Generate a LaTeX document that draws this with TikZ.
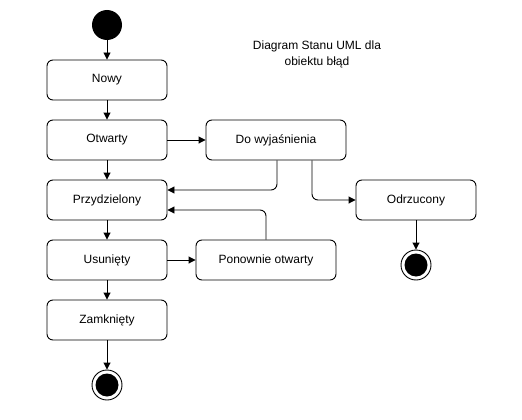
\documentclass[tikz,border=0pt]{standalone}
\usepackage{fontspec}
\setmainfont{Liberation Sans}
\usetikzlibrary{arrows.meta}
\tikzset{
  state/.style={draw, line width=0.9pt, rounded corners=6pt, minimum height=40pt, inner sep=0pt, font=\fontsize{12}{15}\selectfont, fill=white},
  arr/.style={draw, line width=0.9pt, -{Triangle[length=7pt,width=7pt]}, rounded corners=6pt},
  startst/.style={circle, fill=black, minimum size=30pt, inner sep=0pt},
  endst/.style={circle, draw, line width=0.9pt, minimum size=30pt, inner sep=0pt, path picture={\fill[black] (path picture bounding box.center) circle (11.5pt);}},
}
\begin{document}
\begin{tikzpicture}[x=1pt,y=-1pt]
\useasboundingbox (0,0) rectangle (522,420);
\node[startst] (start) at (107,25) {};
\node[state, minimum width=120pt] (nowy) at (107,80) {Nowy};
\node[state, minimum width=120pt] (otw) at (107,140) {Otwarty};
\node[state, minimum width=120pt] (prz) at (107,200) {Przydzielony};
\node[state, minimum width=120pt] (usu) at (107,260) {Usunięty};
\node[state, minimum width=120pt] (zam) at (107,320) {Zamknięty};
\node[endst] (end1) at (107,385) {};
\node[state, minimum width=140pt] (dw) at (276,140) {Do wyjaśnienia};
\node[state, minimum width=120pt] (odr) at (416,200) {Odrzucony};
\node[endst] (end2) at (416,265) {};
\node[state, minimum width=140pt] (pon) at (266,260) {Ponownie otwarty};
\node[align=center, font=\fontsize{12}{16}\selectfont] (title) at (317,54) {Diagram Stanu UML dla\\obiektu błąd};

\draw[arr] (start) -- (nowy);
\draw[arr] (nowy) -- (otw);
\draw[arr] (otw) -- (prz);
\draw[arr] (prz) -- (usu);
\draw[arr] (usu) -- (zam);
\draw[arr] (zam) -- (end1);
\draw[arr] (otw) -- (dw);
\draw[arr] (usu) -- (pon);
\draw[arr] (odr) -- (end2);
\draw[arr] ([xshift=1pt]dw.south) |- ([yshift=10pt]prz.east);
\draw[arr] ([xshift=36pt]dw.south) |- (odr.west);
\draw[arr] (pon.north) |- ([yshift=-10pt]prz.east);
\end{tikzpicture}
\end{document}
